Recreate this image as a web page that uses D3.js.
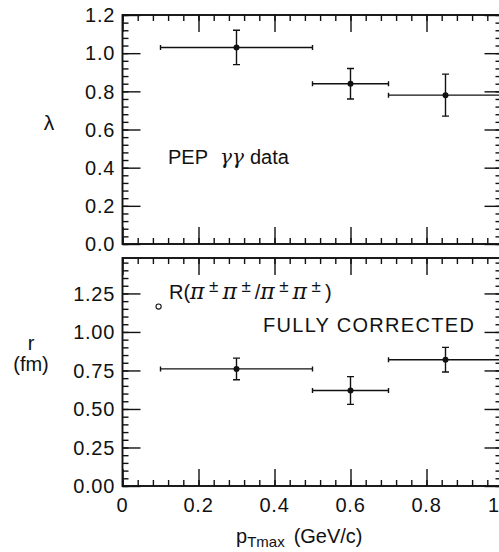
<!DOCTYPE html>
<html><head><meta charset="utf-8">
<script src="https://cdn.jsdelivr.net/npm/d3@7"></script>
<style>
html,body{margin:0;padding:0;background:#fff;}
svg{display:block;font-family:"Liberation Sans",Arial,Helvetica,sans-serif;}
</style></head>
<body>
<svg id="chart" width="499" height="552"></svg>
<script>
// ---- data ----
const ptCenters = [0.3, 0.6, 0.85];
const ptLow = [0.1, 0.5, 0.7];
const ptHigh = [0.5, 0.7, 1.0];
const lambdaValues = [1.03, 0.84, 0.78];
const lambdaErrors = [0.09, 0.08, 0.11];
const radiusValues = [0.76, 0.62, 0.82];
const radiusErrors = [0.07, 0.09, 0.08];
const xTickValues = [0, 0.2, 0.4, 0.6, 0.8, 1];
const xTickLabels = ["0", "0.2", "0.4", "0.6", "0.8", "1"];
const lambdaTicks = [0, 0.2, 0.4, 0.6, 0.8, 1.0, 1.2];
const radiusTicks = [0, 0.25, 0.5, 0.75, 1.0, 1.25];
const openMarker = [{x: 0.095, y: 1.165}];

const svg = d3.select("#chart");
const x = d3.scaleLinear().domain([0, 1]).range([122.5, 502.5]);
const yTop = d3.scaleLinear().domain([0, 1.2]).range([244, 15]);
const yBot = d3.scaleLinear().domain([0, 1.48]).range([486, 258]);
const FS = 20;

function minorTicks(step, max) {
  const out = [];
  for (let v = 0; v <= max + 1e-9; v += step) out.push(+v.toFixed(4));
  return out;
}

function panel(y, yMajor, yMinorStep, yFmt, vals, errs) {
  const g = svg.append("g");
  const [y0, y1] = y.range();
  const x0 = x.range()[0], x1 = x.range()[1];
  const clipId = "clip" + Math.round(y0);
  svg.append("clipPath").attr("id", clipId).append("rect")
    .attr("x", x0).attr("y", y1).attr("width", x1 - x0).attr("height", y0 - y1);

  const xMinor = minorTicks(0.04, 1);
  const yMinor = minorTicks(yMinorStep, y.domain()[1]);
  // bottom
  g.append("g").attr("transform", `translate(0,${y0})`)
    .call(d3.axisTop(x).tickValues(xMinor).tickSize(6).tickFormat(""));
  g.append("g").attr("transform", `translate(0,${y0})`)
    .call(d3.axisTop(x).tickValues(xTickValues).tickSize(17).tickFormat(""));
  // top
  g.append("g").attr("transform", `translate(0,${y1})`)
    .call(d3.axisBottom(x).tickValues(xMinor).tickSize(6).tickFormat(""));
  g.append("g").attr("transform", `translate(0,${y1})`)
    .call(d3.axisBottom(x).tickValues(xTickValues).tickSize(17).tickFormat(""));
  // left
  g.append("g").attr("transform", `translate(${x0},0)`)
    .call(d3.axisRight(y).tickValues(yMinor).tickSize(6).tickFormat(""));
  g.append("g").attr("transform", `translate(${x0},0)`)
    .call(d3.axisRight(y).tickValues(yMajor).tickSize(18).tickFormat(""));
  // right
  g.append("g").attr("transform", `translate(${x1 - 1},0)`)
    .call(d3.axisLeft(y).tickValues(yMinor).tickSize(6).tickFormat(""));
  g.append("g").attr("transform", `translate(${x1 - 1},0)`)
    .call(d3.axisLeft(y).tickValues(yMajor).tickSize(17).tickFormat(""));
  g.selectAll(".domain").remove();
  g.selectAll(".tick line").attr("stroke", "#111").attr("stroke-width", 1.4);

  // frame
  g.append("rect").attr("x", x0).attr("y", y1).attr("width", x1 - x0).attr("height", y0 - y1)
    .attr("fill", "none").attr("stroke", "#111").attr("stroke-width", 1.9);

  // y tick labels
  g.selectAll("text.ylab").data(yMajor).join("text").attr("class", "ylab")
    .attr("x", 115).attr("y", d => y(d)).attr("dy", "0.36em")
    .attr("text-anchor", "end").attr("font-size", FS).attr("letter-spacing", 0.7)
    .attr("fill", "#111").text(yFmt);

  // data
  const d = ptCenters.map((c, i) => ({c, lo: ptLow[i], hi: ptHigh[i], v: vals[i], e: errs[i]}));
  const dg = g.append("g").attr("clip-path", `url(#${clipId})`)
    .attr("stroke", "#111").attr("stroke-width", 1.4).attr("fill", "#111");
  dg.selectAll("line.h").data(d).join("line").attr("class", "h")
    .attr("x1", p => x(p.lo)).attr("x2", p => x(p.hi)).attr("y1", p => y(p.v)).attr("y2", p => y(p.v));
  dg.selectAll("line.hc1").data(d).join("line").attr("class", "hc1")
    .attr("x1", p => x(p.lo)).attr("x2", p => x(p.lo)).attr("y1", p => y(p.v) - 2.5).attr("y2", p => y(p.v) + 2.5);
  dg.selectAll("line.hc2").data(d).join("line").attr("class", "hc2")
    .attr("x1", p => x(p.hi)).attr("x2", p => x(p.hi)).attr("y1", p => y(p.v) - 2.5).attr("y2", p => y(p.v) + 2.5);
  dg.selectAll("line.v").data(d).join("line").attr("class", "v")
    .attr("x1", p => x(p.c)).attr("x2", p => x(p.c)).attr("y1", p => y(p.v - p.e)).attr("y2", p => y(p.v + p.e));
  dg.selectAll("line.vc1").data(d).join("line").attr("class", "vc1")
    .attr("x1", p => x(p.c) - 3.5).attr("x2", p => x(p.c) + 3.5).attr("y1", p => y(p.v - p.e)).attr("y2", p => y(p.v - p.e));
  dg.selectAll("line.vc2").data(d).join("line").attr("class", "vc2")
    .attr("x1", p => x(p.c) - 3.5).attr("x2", p => x(p.c) + 3.5).attr("y1", p => y(p.v + p.e)).attr("y2", p => y(p.v + p.e));
  dg.selectAll("circle").data(d).join("circle")
    .attr("cx", p => x(p.c)).attr("cy", p => y(p.v)).attr("r", 3).attr("stroke", "none");
  return g;
}

panel(yTop, lambdaTicks, 0.04, d3.format(".1f"), lambdaValues, lambdaErrors);
const gb = panel(yBot, radiusTicks, 0.05, d3.format(".2f"), radiusValues, radiusErrors);

// x tick labels (last one sits against the right edge, as in the reference)
svg.selectAll("text.xlab").data(xTickValues).join("text").attr("class", "xlab")
  .attr("x", d => d === 1 ? 499 : x(d)).attr("y", 505).attr("dy", "0.36em")
  .attr("text-anchor", d => d === 1 ? "end" : "middle").attr("font-size", FS).attr("letter-spacing", d => d === 1 ? 0 : 0.7)
  .attr("fill", "#111").text((d, i) => xTickLabels[i]);

// axis titles
svg.append("text").attr("x", 49).attr("y", 130).attr("text-anchor", "middle")
  .attr("font-size", 21).attr("fill", "#111").text("λ");
svg.append("text").attr("x", 31).attr("y", 350).attr("text-anchor", "middle")
  .attr("font-size", FS).attr("fill", "#111").text("r");
svg.append("text").attr("x", 31).attr("y", 371).attr("text-anchor", "middle")
  .attr("font-size", FS).attr("fill", "#111").text("(fm)");

const xt = svg.append("text").attr("x", 236).attr("y", 543)
  .attr("font-size", FS).attr("fill", "#111");
xt.append("tspan").text("p");
xt.append("tspan").attr("font-size", 15).attr("dy", 4).text("Tmax");
xt.append("tspan").attr("dy", -4).attr("dx", 9).text("(GeV/c)");

// annotations
const pep = svg.append("text").attr("x", 168).attr("y", 164)
  .attr("font-size", FS).attr("fill", "#111");
pep.append("tspan").text("PEP");
pep.append("tspan").attr("font-family", "DejaVu Serif, serif").attr("font-style", "italic").attr("dx", 12).text("γγ");
pep.append("tspan").attr("dx", 6).text("data");

svg.append("text").attr("x", 263).attr("y", 332).attr("font-size", FS)
  .attr("letter-spacing", 1.3).attr("fill", "#111").text("FULLY CORRECTED");

gb.selectAll("circle.open").data(openMarker).join("circle").attr("class", "open")
  .attr("cx", p => x(p.x)).attr("cy", p => yBot(p.y)).attr("r", 2.6)
  .attr("fill", "none").attr("stroke", "#111").attr("stroke-width", 1.1);

const rl = svg.append("text").attr("x", 169).attr("y", 299).attr("font-size", FS).attr("fill", "#111");
const piSpan = (t) => rl.append("tspan").attr("font-family", "DejaVu Serif, serif").attr("font-style", "italic").attr("font-size", 22).text(t);
const supSpan = () => rl.append("tspan").attr("font-size", 17).attr("dy", -7).attr("dx", 4.5).text("±");
rl.append("tspan").text("R(");
piSpan("π"); supSpan(); piSpan("π").attr("dy", 7).attr("dx", 4); supSpan();
rl.append("tspan").attr("dy", 7).attr("dx", 4).text("/");
piSpan("π"); supSpan(); piSpan("π").attr("dy", 7).attr("dx", 4); supSpan();
rl.append("tspan").attr("dy", 7).attr("dx", 4).text(")");
</script>
</body></html>
